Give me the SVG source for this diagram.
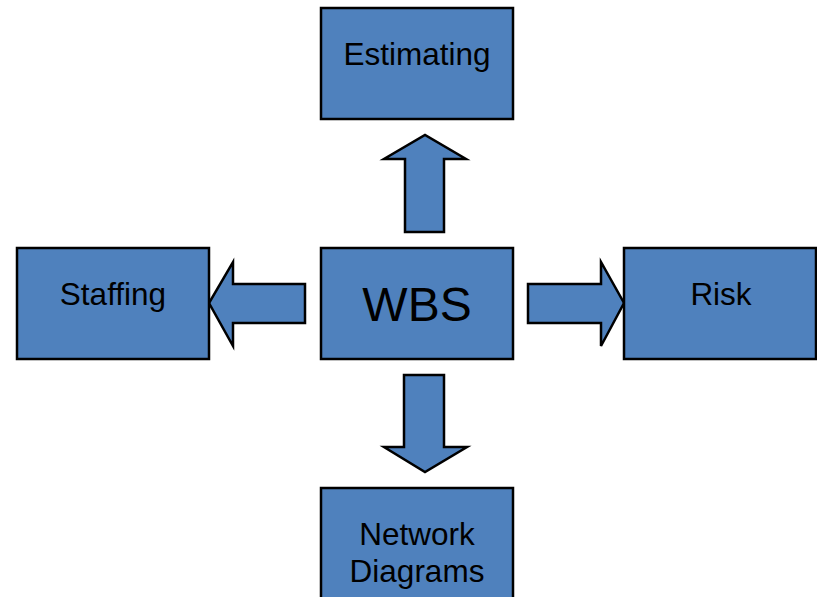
<svg xmlns="http://www.w3.org/2000/svg" width="817" height="597" viewBox="0 0 817 597">
  <style>
    .box { fill: #4F81BD; stroke: #000; stroke-width: 2.5; }
    .arrow { fill: #4F81BD; stroke: #000; stroke-width: 2.5; stroke-linejoin: miter; }
    .label { font-family: "Liberation Sans", Arial, sans-serif; font-size: 31.5px; fill: #000; text-anchor: middle; }
    .big { font-size: 48px; }
  </style>
  <rect width="817" height="597" fill="#fff"/>

  <g id="connectors">
    <!-- up -->
    <polygon class="arrow" points="405,232 405,159 384,159 425,135 466,159 444,159 444,232"/>
    <!-- left -->
    <polygon class="arrow" points="305,284 233,284 233,262 209,303 233,346 233,323 305,323"/>
    <!-- right -->
    <polygon class="arrow" points="528,284 601,284 601,262 624,303 601,346 601,323 528,323"/>
    <!-- down -->
    <polygon class="arrow" points="404,375 444,375 444,447 467,447 425,472 384,447 404,447"/>
  </g>

  <g id="estimating">
    <rect class="box" x="321" y="8" width="192" height="111"/>
    <text class="label" x="417" y="65">Estimating</text>
  </g>

  <g id="wbs">
    <rect class="box" x="321" y="248" width="192" height="111"/>
    <text class="label big" x="417" y="321">WBS</text>
  </g>

  <g id="staffing">
    <rect class="box" x="17" y="248" width="192" height="111"/>
    <text class="label" x="113" y="305">Staffing</text>
  </g>

  <g id="risk">
    <rect class="box" x="624" y="248" width="192" height="111"/>
    <text class="label" x="721" y="305">Risk</text>
  </g>

  <g id="network-diagrams">
    <rect class="box" x="321" y="488" width="192" height="120"/>
    <text class="label" x="417" y="545">Network</text>
    <text class="label" x="417" y="582">Diagrams</text>
  </g>
</svg>
